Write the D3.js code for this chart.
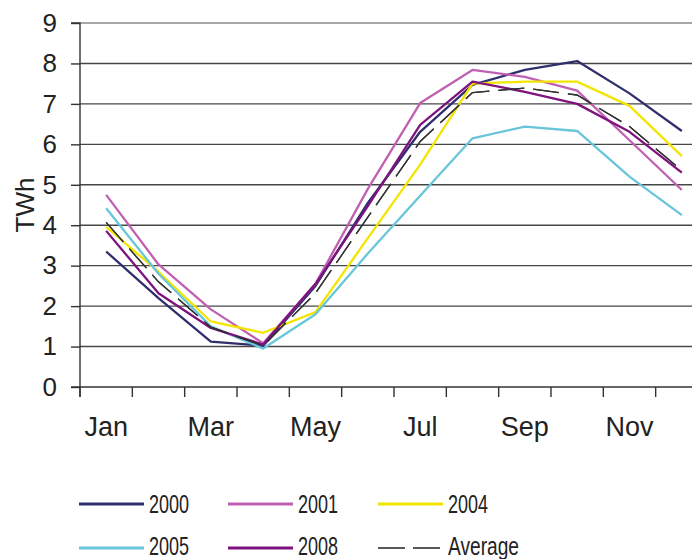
<!DOCTYPE html>
<html>
<head>
<meta charset="utf-8">
<script src="https://cdn.jsdelivr.net/npm/d3@7"></script>
<style>
  body { margin: 0; background: #fff; }
  svg { display: block; font-family: Arial, "Liberation Sans", sans-serif; }
</style>
</head>
<body>
<svg id="chart" width="692" height="559"></svg>
<script>
// Monthly electricity use, TWh
const months = ["Jan","Feb","Mar","Apr","May","Jun","Jul","Aug","Sep","Oct","Nov","Dec"];
const monthTicks = ["Jan","Mar","May","Jul","Sep","Nov"];
const yTicks = [0,1,2,3,4,5,6,7,8,9];

const y2000 = [3.35, 2.2, 1.12, 1.02, 2.5, 4.55, 6.31, 7.47, 7.84, 8.06, 7.26, 6.33];
const y2001 = [4.75, 3.03, 1.92, 1.08, 2.55, 4.9, 7.02, 7.84, 7.67, 7.33, 6.1, 4.87];
const y2004 = [3.96, 2.85, 1.62, 1.34, 1.85, 3.68, 5.5, 7.5, 7.55, 7.55, 6.95, 5.71];
const y2005 = [4.42, 2.8, 1.5, 0.95, 1.8, 3.3, 4.73, 6.15, 6.44, 6.33, 5.2, 4.25];
const y2008 = [3.86, 2.32, 1.46, 1.05, 2.55, 4.47, 6.48, 7.55, 7.3, 7.0, 6.31, 5.3];
const yAvg  = [4.07, 2.6, 1.48, 1.02, 2.32, 4.2, 6.07, 7.28, 7.39, 7.22, 6.44, 5.35];

const seriesNames = ["2000","2001","2004","2005","2008","Average"];
const seriesValues = [y2000, y2001, y2004, y2005, y2008, yAvg];
const seriesColors = ["#2f2f6e", "#c060b2", "#f3e500", "#69c5da", "#7e137f", "#222222"];

const svg = d3.select("#chart");
const plotLeft = 80, plotRight = 708, plotTop = 23, plotBottom = 387;

const x = d3.scaleBand().domain(months).range([plotLeft, plotRight]).paddingInner(0).paddingOuter(0);
const y = d3.scaleLinear().domain([0, 9]).range([plotBottom, plotTop]);
const cx = m => x(m) + x.bandwidth() / 2;

// horizontal gridlines
svg.append("g").selectAll("line").data(yTicks.filter(d => d > 0)).join("line")
  .attr("x1", plotLeft).attr("x2", plotRight)
  .attr("y1", d => y(d)).attr("y2", d => y(d))
  .attr("stroke", d => d === 9 ? "#a8a8a8" : "#474747")
  .attr("stroke-width", d => d === 9 ? 2 : 1.4);

// y axis
const yAxis = d3.axisLeft(y).tickValues(yTicks).tickSize(9).tickPadding(14).tickFormat(d3.format("d"));
const gy = svg.append("g").attr("transform", `translate(${plotLeft},0)`).call(yAxis);
gy.select(".domain").attr("stroke", "#333").attr("stroke-width", 1.4).attr("d", `M-9,${plotTop}H0V${plotBottom + 10}`);
gy.selectAll(".tick line").attr("stroke", "#333").attr("stroke-width", 1.4);
gy.selectAll(".tick text").attr("fill", "#222").style("font-size", "26px")
  .style("font-family", "Arial, 'Liberation Sans', sans-serif");

// x axis: labels centred on months, tick marks on month boundaries
const xAxis = d3.axisBottom(x).tickValues(monthTicks).tickSize(0).tickPadding(30);
const gx = svg.append("g").attr("transform", `translate(0,${plotBottom})`).call(xAxis);
gx.select(".domain").attr("stroke", "#333").attr("stroke-width", 1.4).attr("d", `M${plotLeft - 9},0H${plotRight}`);
gx.selectAll(".tick text").attr("fill", "#222").style("font-size", "27px")
  .style("font-family", "Arial, 'Liberation Sans', sans-serif");
gx.selectAll("line.bound").data(months.concat(["end"])).join("line").attr("class", "bound")
  .attr("x1", (d, i) => plotLeft + i * x.step()).attr("x2", (d, i) => plotLeft + i * x.step())
  .attr("y1", 0).attr("y2", 10).attr("stroke", "#333").attr("stroke-width", 1.4);

// y axis title
svg.append("text").attr("transform", `translate(34,205) rotate(-90)`)
  .attr("text-anchor", "middle").attr("fill", "#222").style("font-size", "26px").text("TWh");

// series lines
const line = d3.line().x((d, i) => cx(months[i])).y(d => y(d));
seriesValues.forEach((vals, k) => {
  const isAvg = seriesNames[k] === "Average";
  svg.append("path").datum(vals)
    .attr("d", line).attr("fill", "none")
    .attr("stroke", seriesColors[k])
    .attr("stroke-width", isAvg ? 1.3 : 2.3)
    .attr("stroke-linejoin", "round")
    .attr("stroke-dasharray", isAvg ? "26,9" : null);
});
// average drawn again on top so its dashes stay visible
svg.append("path").datum(yAvg).attr("d", line).attr("fill", "none")
  .attr("stroke", "#333").attr("stroke-width", 1.3).attr("stroke-dasharray", "26,9");

// legend
const legendCols = [79, 228, 378];
const legendRows = [504, 548];
const legendTextW = [40, 40, 40, 40, 40, 71];
const lg = svg.append("g");
seriesNames.forEach((name, k) => {
  const col = k % 3, row = Math.floor(k / 3);
  const lx = legendCols[col], ly = legendRows[row];
  const isAvg = name === "Average";
  lg.append("line").attr("x1", lx).attr("x2", lx + 65).attr("y1", ly).attr("y2", ly)
    .attr("stroke", seriesColors[k]).attr("stroke-width", isAvg ? 1.5 : 2.8)
    .attr("stroke-dasharray", isAvg ? "27,8" : null);
  lg.append("text").attr("x", lx + 70).attr("y", ly + (row === 0 ? 9 : 6.5))
    .attr("fill", "#222").style("font-size", "25.5px")
    .attr("textLength", legendTextW[k]).attr("lengthAdjust", "spacingAndGlyphs")
    .text(name);
});
</script>
</body>
</html>
